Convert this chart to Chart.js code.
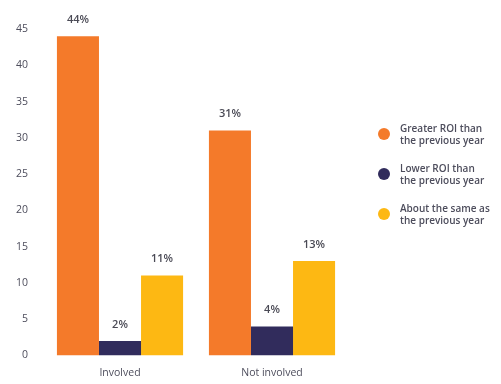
<!DOCTYPE html>
<html>
<head>
<meta charset="utf-8">
<script src="https://cdn.jsdelivr.net/npm/chart.js@4"></script>
<style>
  body { margin: 0; background: #fff; }
  #wrap { position: relative; width: 501px; height: 384px; }
  #legend { position: absolute; left: 376px; top: 122px; font-family: "Open Sans", sans-serif; font-size: 10px; font-weight: 600; color: #4d4d5c; line-height: 12px; }
  .item { position: relative; padding-left: 24px; height: 40px; }
  .dot { position: absolute; left: 2px; top: 6px; width: 12px; height: 12px; border-radius: 50%; }
</style>
</head>
<body>
<div id="wrap">
  <canvas id="roiChart" width="501" height="384"></canvas>
  <div id="legend"></div>
</div>
<script>
const categories = ["Involved", "Not involved"];
const seriesNames = [
  ["Greater ROI than", "the previous year"],
  ["Lower ROI than", "the previous year"],
  ["About the same as", "the previous year"],
];
const greaterRoi = [44, 31];
const lowerRoi = [2, 4];
const sameRoi = [11, 13];
const colors = ["#f47a2a", "#312c5c", "#fdb813"];

const seriesValues = [greaterRoi, lowerRoi, sameRoi];

// value labels above each bar
const barLabels = {
  id: "barLabels",
  afterDatasetsDraw(chart) {
    const ctx = chart.ctx;
    ctx.save();
    ctx.font = "600 11px 'Open Sans', sans-serif";
    ctx.fillStyle = "#4a4a55";
    ctx.textAlign = "center";
    ctx.textBaseline = "bottom";
    chart.data.datasets.forEach((ds, i) => {
      chart.getDatasetMeta(i).data.forEach((bar, j) => {
        ctx.fillText(ds.data[j] + "%", bar.x, bar.y - 11);
      });
    });
    ctx.restore();
  },
};

new Chart(document.getElementById("roiChart"), {
  type: "bar",
  data: {
    labels: categories,
    datasets: seriesValues.map((vals, i) => ({
      label: seriesNames[i].join(" "),
      data: vals,
      backgroundColor: colors[i],
      barPercentage: 1,
      categoryPercentage: 0.83,
    })),
  },
  options: {
    responsive: false,
    animation: false,
    layout: { padding: { left: 0, right: 153, top: 29, bottom: -6 } },
    plugins: {
      legend: { display: false },
      tooltip: { enabled: false },
    },
    scales: {
      x: {
        grid: { display: false, drawTicks: false },
        border: { display: false },
        ticks: { color: "#4d4d5c", padding: 11, font: { family: "Open Sans", size: 10.5 } },
      },
      y: {
        min: 0,
        max: 45,
        grid: { display: false, drawTicks: false },
        border: { display: false },
        ticks: { stepSize: 5, color: "#4d4d5c", padding: 16, font: { family: "Open Sans", size: 10.5 } },
      },
    },
  },
  plugins: [barLabels],
});

const legend = document.getElementById("legend");
seriesNames.forEach((lines, i) => {
  const item = document.createElement("div");
  item.className = "item";
  item.innerHTML = '<span class="dot" style="background:' + colors[i] + '"></span>' + lines.join("<br>");
  legend.appendChild(item);
});
</script>
</body>
</html>
